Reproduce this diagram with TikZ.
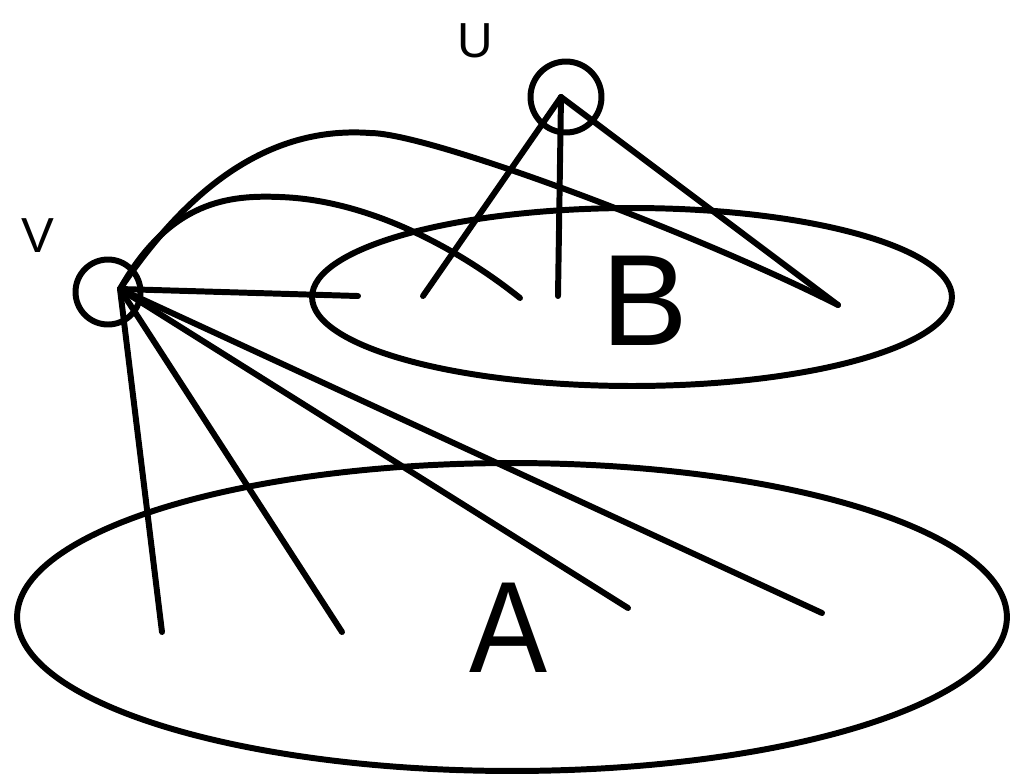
\documentclass[tikz,border=0pt]{standalone}
\usepackage{fontspec}
\setmainfont{Liberation Sans}
\usetikzlibrary{positioning, shapes, calc}

\tikzset{
  edge/.style={line width=3.4pt, line cap=round},
  setshape/.style={draw, ellipse, line width=3.4pt, inner sep=0pt},
  vertex/.style={draw, circle, line width=3.4pt, inner sep=0pt},
  small/.style={font=\fontsize{28}{30}\selectfont, anchor=base},
  big/.style={font=\fontsize{74}{80}\selectfont, anchor=base}
}

\begin{document}
\begin{tikzpicture}[x=0.02cm, y=-0.02cm]
        \useasboundingbox (0,0) rectangle (1012,779);

        % Set B
        \node[setshape, minimum width=12.8cm, minimum height=3.56cm] (setB) at (632,297) {};
        \node[big] (labB) at (645,345) {B};

        % Set A
        \node[setshape, minimum width=19.8cm, minimum height=6.16cm] (setA) at (512,617) {};
        \node[big, xscale=0.9] (labA) at (509,672) {A};

        % Vertex U
        \node[vertex, minimum size=1.42cm] (u) at (566,97) {};
        \node[small] (labU) at (475,57) {U};
        \coordinate (uhub) at (561,97);

        % Vertex V
        \node[vertex, minimum size=1.3cm] (v) at (108,292) {};
        \node[small] (labV) at (38,252) {V};
        \coordinate (vhub) at (120,289);

        % end points in B
        \coordinate (b1) at (358,296);
        \coordinate (b2) at (423,296);
        \coordinate (b3) at (520,298);
        \coordinate (b4) at (558,296);
        \coordinate (b5) at (838,305);

        % end points in A
        \coordinate (a1) at (162,632);
        \coordinate (a2) at (342,632);
        \coordinate (a3) at (628,608);
        \coordinate (a4) at (822,613);

        % edges from U
        \draw[edge] (uhub) -- (b2);
        \draw[edge] (uhub) -- (b4);
        \draw[edge] (uhub) -- (b5);

        % edges from V
        \draw[edge] (vhub) -- (b1);
        \draw[edge] (vhub) .. controls (170,200) and (230,195) .. (280,197)
                           .. controls (370,200) and (460,250) .. (b3);
        \draw[edge] (vhub) .. controls (180,200) and (260,125) .. (370,133)
                           .. controls (430,133) and (700,235) .. (b5);
        \draw[edge] (vhub) -- (a1);
        \draw[edge] (vhub) -- (a2);
        \draw[edge] (vhub) -- (a3);
        \draw[edge] (vhub) -- (a4);
      \end{tikzpicture}
\end{document}
